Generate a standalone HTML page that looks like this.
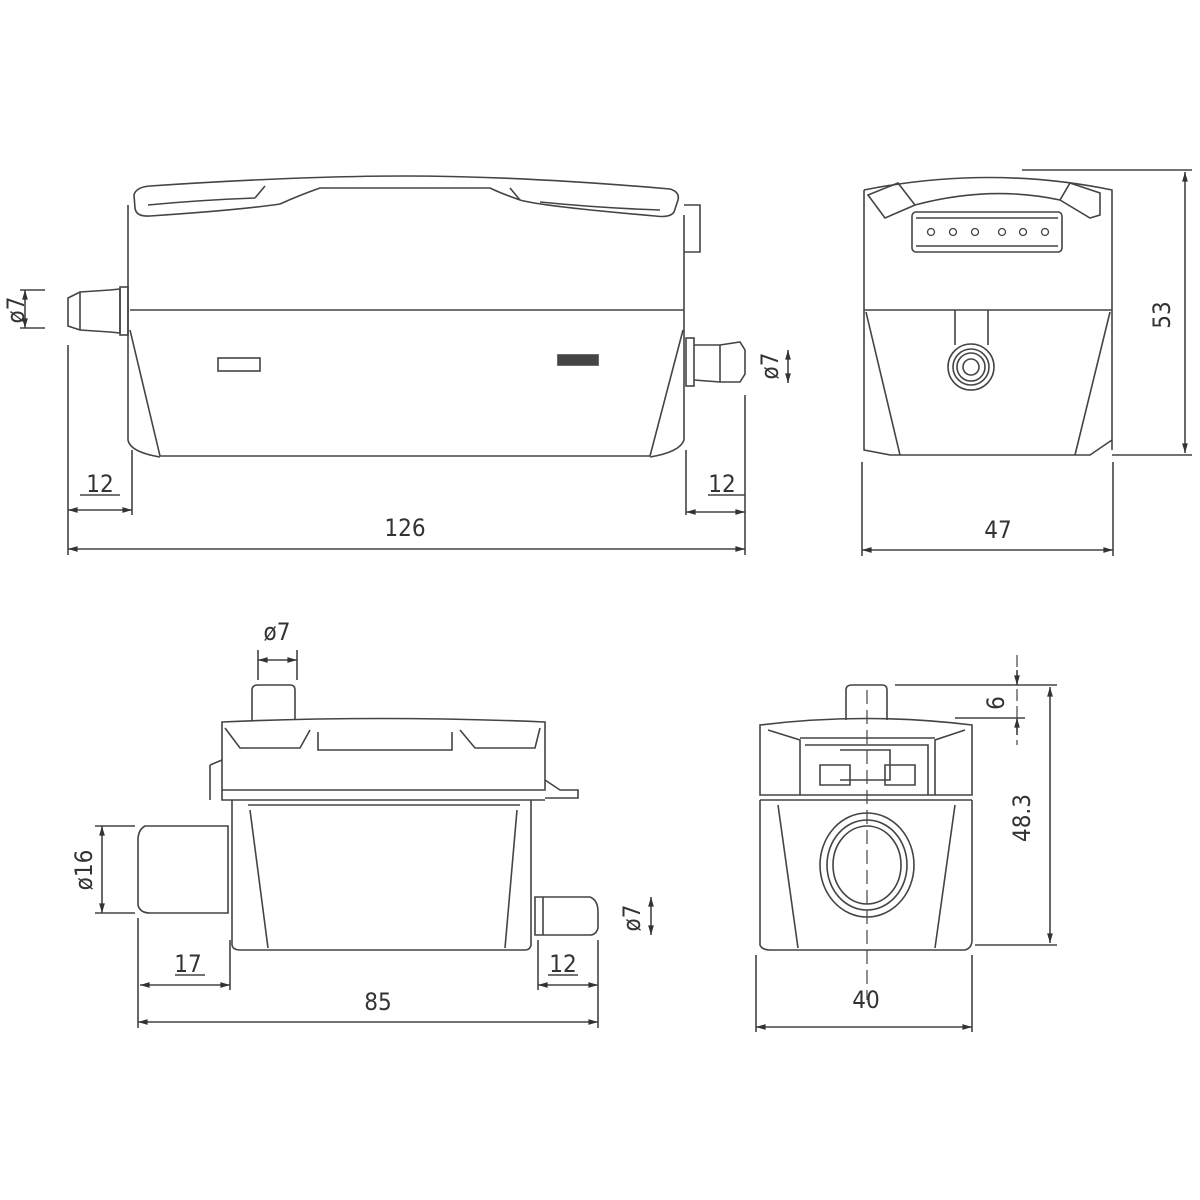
<!DOCTYPE html>
<html><head><style>html,body{margin:0;padding:0;background:#fff}svg{display:block}text{font-family:"DejaVu Sans Condensed","Liberation Sans",sans-serif;fill:#333;font-size:24px}</style></head>
<body>
<svg width="1200" height="1200" viewBox="0 0 1200 1200" xmlns="http://www.w3.org/2000/svg">
<defs>
<marker id="a" viewBox="0 0 10 10" refX="10" refY="5" markerWidth="9" markerHeight="6" orient="auto-start-reverse"><path d="M0,2 L10,5 L0,8z" fill="#333"/></marker>
</defs>
<g fill="none" stroke="#444" stroke-width="1.6">
<!-- TOP LEFT VIEW -->
<path d="M134,195 Q136,187 150,186 Q300,176 405,176 Q520,176 670,189 Q680,192 678,200 L674,212 Q670,218 655,216 Q540,206 520,200 Q500,193 490,188 L320,188 Q300,195 280,204 Q240,210 150,216 Q136,217 135,208 Z"/>
<path d="M148,205 Q200,200 255,198 M540,202 Q600,208 660,210 M255,198 L265,186 M520,200 L510,188"/>
<path d="M128,205 L128,440 Q130,452 160,457 M684,215 L684,440 Q680,452 650,457"/>
<path d="M160,456 L650,456 M130,310 L684,310 M130,330 L160,456 M683,330 L650,456"/>
<path d="M684,205 L700,205 L700,252 L684,252"/>
<rect x="218" y="358" width="42" height="13"/>
<rect x="558" y="355" width="40" height="10" fill="#444"/>
<!-- left fitting -->
<path d="M68,298 L80,292 L110,290 L120,289 L120,333 L110,332 L80,330 L68,326 Z M80,292 L80,330"/>
<rect x="120" y="287" width="8" height="48"/>
<!-- right fitting -->
<rect x="686" y="338" width="8" height="48"/>
<path d="M694,345 L720,345 L740,342 L745,350 L745,374 L740,382 L720,382 L694,380 M720,345 L720,382"/>
<!-- dims top-left -->
<path d="M20,290 L45,290 M20,328 L45,328 M68,345 L68,555 M132,450 L132,515 M686,450 L686,515 M745,395 L745,555"/>
<path d="M25,290 L25,328" marker-start="url(#a)" marker-end="url(#a)"/>
<path d="M68,510 L132,510" marker-start="url(#a)" marker-end="url(#a)"/>
<path d="M686,512 L745,512" marker-start="url(#a)" marker-end="url(#a)"/>
<path d="M68,549 L745,549" marker-start="url(#a)" marker-end="url(#a)"/>
<path d="M80,495 L120,495 M708,495 L745,495"/>
<path d="M788,350 L788,383" marker-start="url(#a)" marker-end="url(#a)"/>
<!-- TOP RIGHT VIEW -->
<path d="M864,190 Q990,165 1112,190 L1112,450 M864,190 L864,450 L890,455 L1090,455 L1112,440"/>
<path d="M864,310 L1112,310 M866,312 L900,455 M1110,312 L1075,455"/>
<path d="M868,195 L898,183 L915,205 L885,218 Z M1070,183 L1100,193 L1100,215 L1090,218 L1060,200 Z M915,205 Q990,185 1060,200"/>
<rect x="912" y="212" width="150" height="40" rx="4"/>
<path d="M916,218 L1058,218 M916,246 L1058,246"/>
<g stroke-width="1.3"><circle cx="931" cy="232" r="3.5"/><circle cx="953" cy="232" r="3.5"/><circle cx="975" cy="232" r="3.5"/><circle cx="1002" cy="232" r="3.5"/><circle cx="1023" cy="232" r="3.5"/><circle cx="1045" cy="232" r="3.5"/></g>
<path d="M955,310 L955,345 M988,310 L988,345"/>
<circle cx="971" cy="367" r="23"/><circle cx="971" cy="367" r="18"/><circle cx="971" cy="367" r="14"/><circle cx="971" cy="367" r="8"/>
<path d="M1022,170 L1192,170 M1112,455 L1192,455 M862,462 L862,556 M1113,462 L1113,556"/>
<path d="M1185,172 L1185,453" marker-start="url(#a)" marker-end="url(#a)"/>
<path d="M862,550 L1113,550" marker-start="url(#a)" marker-end="url(#a)"/>
<!-- BOTTOM LEFT VIEW -->
<path d="M252,720 L252,690 Q252,685 258,685 L290,685 Q295,685 295,690 L295,720"/>
<path d="M222,722 Q380,715 545,722 L545,790 L222,790 Z M225,728 L240,748 L300,748 L310,730 M318,732 L318,750 L452,750 L452,732 M460,730 L475,748 L535,748 L540,728"/>
<path d="M210,765 L222,760 M210,765 L210,800 M545,780 L560,790 L578,790 L578,798 L545,798"/>
<path d="M222,790 L222,800 L545,800 M232,800 L232,945 Q233,950 240,950 L525,950 Q530,950 531,945 L531,800"/>
<path d="M250,810 L268,948 M517,810 L505,948 M248,805 L520,805"/>
<path d="M228,826 L145,826 Q138,830 138,840 L138,905 Q140,913 150,913 L228,913 Z"/>
<path d="M535,897 L590,897 Q598,900 598,912 L598,928 Q596,935 590,935 L535,935 Z M543,897 L543,935"/>
<path d="M95,826 L135,826 M95,913 L135,913 M138,918 L138,1028 M230,940 L230,990 M538,940 L538,990 M598,940 L598,1028 M258,650 L258,680 M297,650 L297,680"/>
<path d="M102,826 L102,913" marker-start="url(#a)" marker-end="url(#a)"/>
<path d="M140,985 L230,985" marker-start="url(#a)" marker-end="url(#a)"/>
<path d="M538,985 L598,985" marker-start="url(#a)" marker-end="url(#a)"/>
<path d="M138,1022 L598,1022" marker-start="url(#a)" marker-end="url(#a)"/>
<path d="M258,660 L297,660" marker-start="url(#a)" marker-end="url(#a)"/>
<path d="M175,975 L205,975 M548,975 L578,975"/>
<path d="M651,897 L651,935" marker-start="url(#a)" marker-end="url(#a)"/>
<!-- BOTTOM RIGHT VIEW -->
<path d="M846,720 L846,690 Q846,685 852,685 L882,685 Q887,685 887,690 L887,720"/>
<path d="M760,725 Q867,712 972,725 L972,795 L760,795 Z M768,730 L800,740 L800,795 M965,730 L935,740 L935,795 M800,738 L935,738 M805,745 L928,745 L928,795"/>
<path d="M760,800 L972,800 M760,800 L760,945 Q762,950 770,950 L965,950 Q972,948 972,940 L972,800 M778,805 L798,948 M955,805 L935,948"/>
<path d="M820,765 L850,765 L850,785 L820,785 Z M885,765 L915,765 L915,785 L885,785 Z M840,750 L890,750 L890,780 L840,780"/>
<ellipse cx="867" cy="865" rx="47" ry="52"/><ellipse cx="867" cy="865" rx="40" ry="45"/><ellipse cx="867" cy="865" rx="34" ry="39"/>
<path d="M867,690 L867,1000" stroke-dasharray="14,6" stroke-width="1.2"/>
<path d="M1017,655 L1017,745" stroke-dasharray="12,5" stroke-width="1.2"/>
<path d="M895,685 L1057,685 M955,718 L1025,718 M975,945 L1057,945 M756,955 L756,1032 M972,955 L972,1032"/>
<path d="M1017,670 L1017,685" marker-end="url(#a)"/><path d="M1017,735 L1017,718" marker-end="url(#a)"/>
<path d="M1050,687 L1050,943" marker-start="url(#a)" marker-end="url(#a)"/>
<path d="M756,1027 L972,1027" marker-start="url(#a)" marker-end="url(#a)"/>
</g>
<!-- texts -->
<text x="100" y="492" text-anchor="middle">12</text>
<text x="722" y="492" text-anchor="middle">12</text>
<text x="405" y="536" text-anchor="middle">126</text>
<text x="998" y="538" text-anchor="middle">47</text>
<text transform="translate(1170,315) rotate(-90)" text-anchor="middle">53</text>
<text transform="translate(24,310) rotate(-90)" text-anchor="middle" font-size="20">ø7</text>
<text transform="translate(778,366) rotate(-90)" text-anchor="middle" font-size="22">ø7</text>
<text x="277" y="640" text-anchor="middle">ø7</text>
<text transform="translate(92,870) rotate(-90)" text-anchor="middle">ø16</text>
<text x="188" y="972" text-anchor="middle">17</text>
<text x="563" y="972" text-anchor="middle">12</text>
<text x="378" y="1010" text-anchor="middle">85</text>
<text transform="translate(640,918) rotate(-90)" text-anchor="middle">ø7</text>
<text x="866" y="1008" text-anchor="middle">40</text>
<text transform="translate(1030,818) rotate(-90)" text-anchor="middle">48.3</text>
<text transform="translate(1004,703) rotate(-90)" text-anchor="middle">6</text>
</svg>
</body></html>
